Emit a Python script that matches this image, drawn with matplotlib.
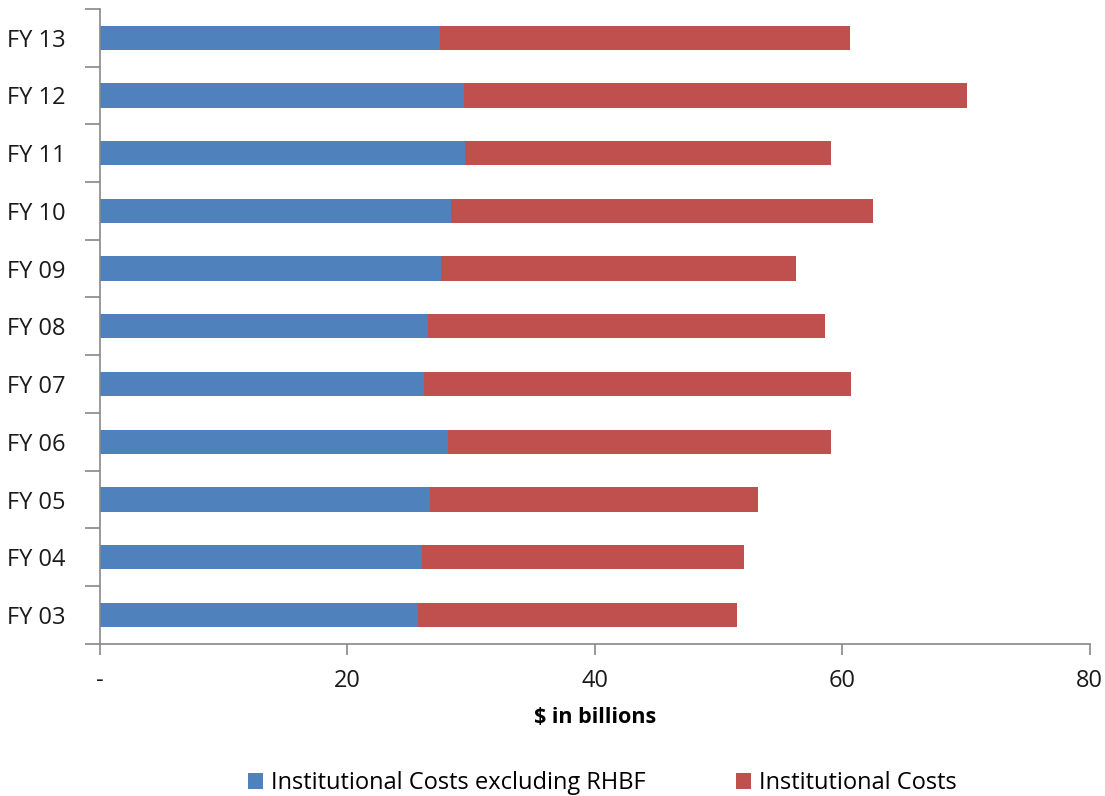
import matplotlib.pyplot as plt
import numpy as np

plt.rcParams['font.family'] = ['Open Sans', 'DejaVu Sans']

years = ['FY 03', 'FY 04', 'FY 05', 'FY 06', 'FY 07', 'FY 08',
         'FY 09', 'FY 10', 'FY 11', 'FY 12', 'FY 13']
excl_rhbf = [25.7, 26.0, 26.7, 28.1, 26.2, 26.5, 27.6, 28.4, 29.5, 29.4, 27.5]
total = [51.5, 52.1, 53.2, 59.1, 60.7, 58.6, 56.3, 62.5, 59.1, 70.1, 60.6]
xticks = [0, 20, 40, 60, 80]
xticklabels = ['-', '20', '40', '60', '80']

excl_rhbf = np.array(excl_rhbf)
total = np.array(total)
rest = total - excl_rhbf

fig = plt.figure(figsize=(11.05, 7.96), dpi=100)
ax = fig.add_axes([0.0905, 0.191, 0.8955, 0.798])

idx = np.arange(len(years))
h = 0.42
ax.barh(idx, excl_rhbf, h, color='#4F81BD', label='Institutional Costs excluding RHBF')
ax.barh(idx, rest, h, left=excl_rhbf, color='#C0504D', label='Institutional Costs')

ax.set_ylim(-0.5, len(years) - 0.5)
ax.set_xlim(0, 80)
ax.set_yticks(idx)
ax.set_yticklabels(years, fontsize=17, color='#1a1a1a')
ax.set_yticks(np.arange(-0.5, len(years)), minor=True)
ax.tick_params(axis='y', which='major', length=0, pad=25)
ax.tick_params(axis='y', which='minor', length=11, color='#888888', width=1.2)
ax.set_xticks(xticks)
ax.set_xticklabels(xticklabels, fontsize=17, color='#1a1a1a')
ax.tick_params(axis='x', length=8, color='#888888', width=1.2, pad=10)

for s in ['top', 'right']:
    ax.spines[s].set_visible(False)
for s in ['left', 'bottom']:
    ax.spines[s].set_color('#888888')
    ax.spines[s].set_linewidth(1.2)

ax.set_xlabel('\\$ in billions', fontsize=15.5, fontweight='bold', labelpad=10)

fig.legend(loc='lower center', bbox_to_anchor=(0.545, -0.026), ncol=2, frameon=False,
           fontsize=17, handlelength=0.65, handleheight=0.65, columnspacing=3.8,
           handletextpad=0.35)

plt.savefig('out.png', dpi=100)
